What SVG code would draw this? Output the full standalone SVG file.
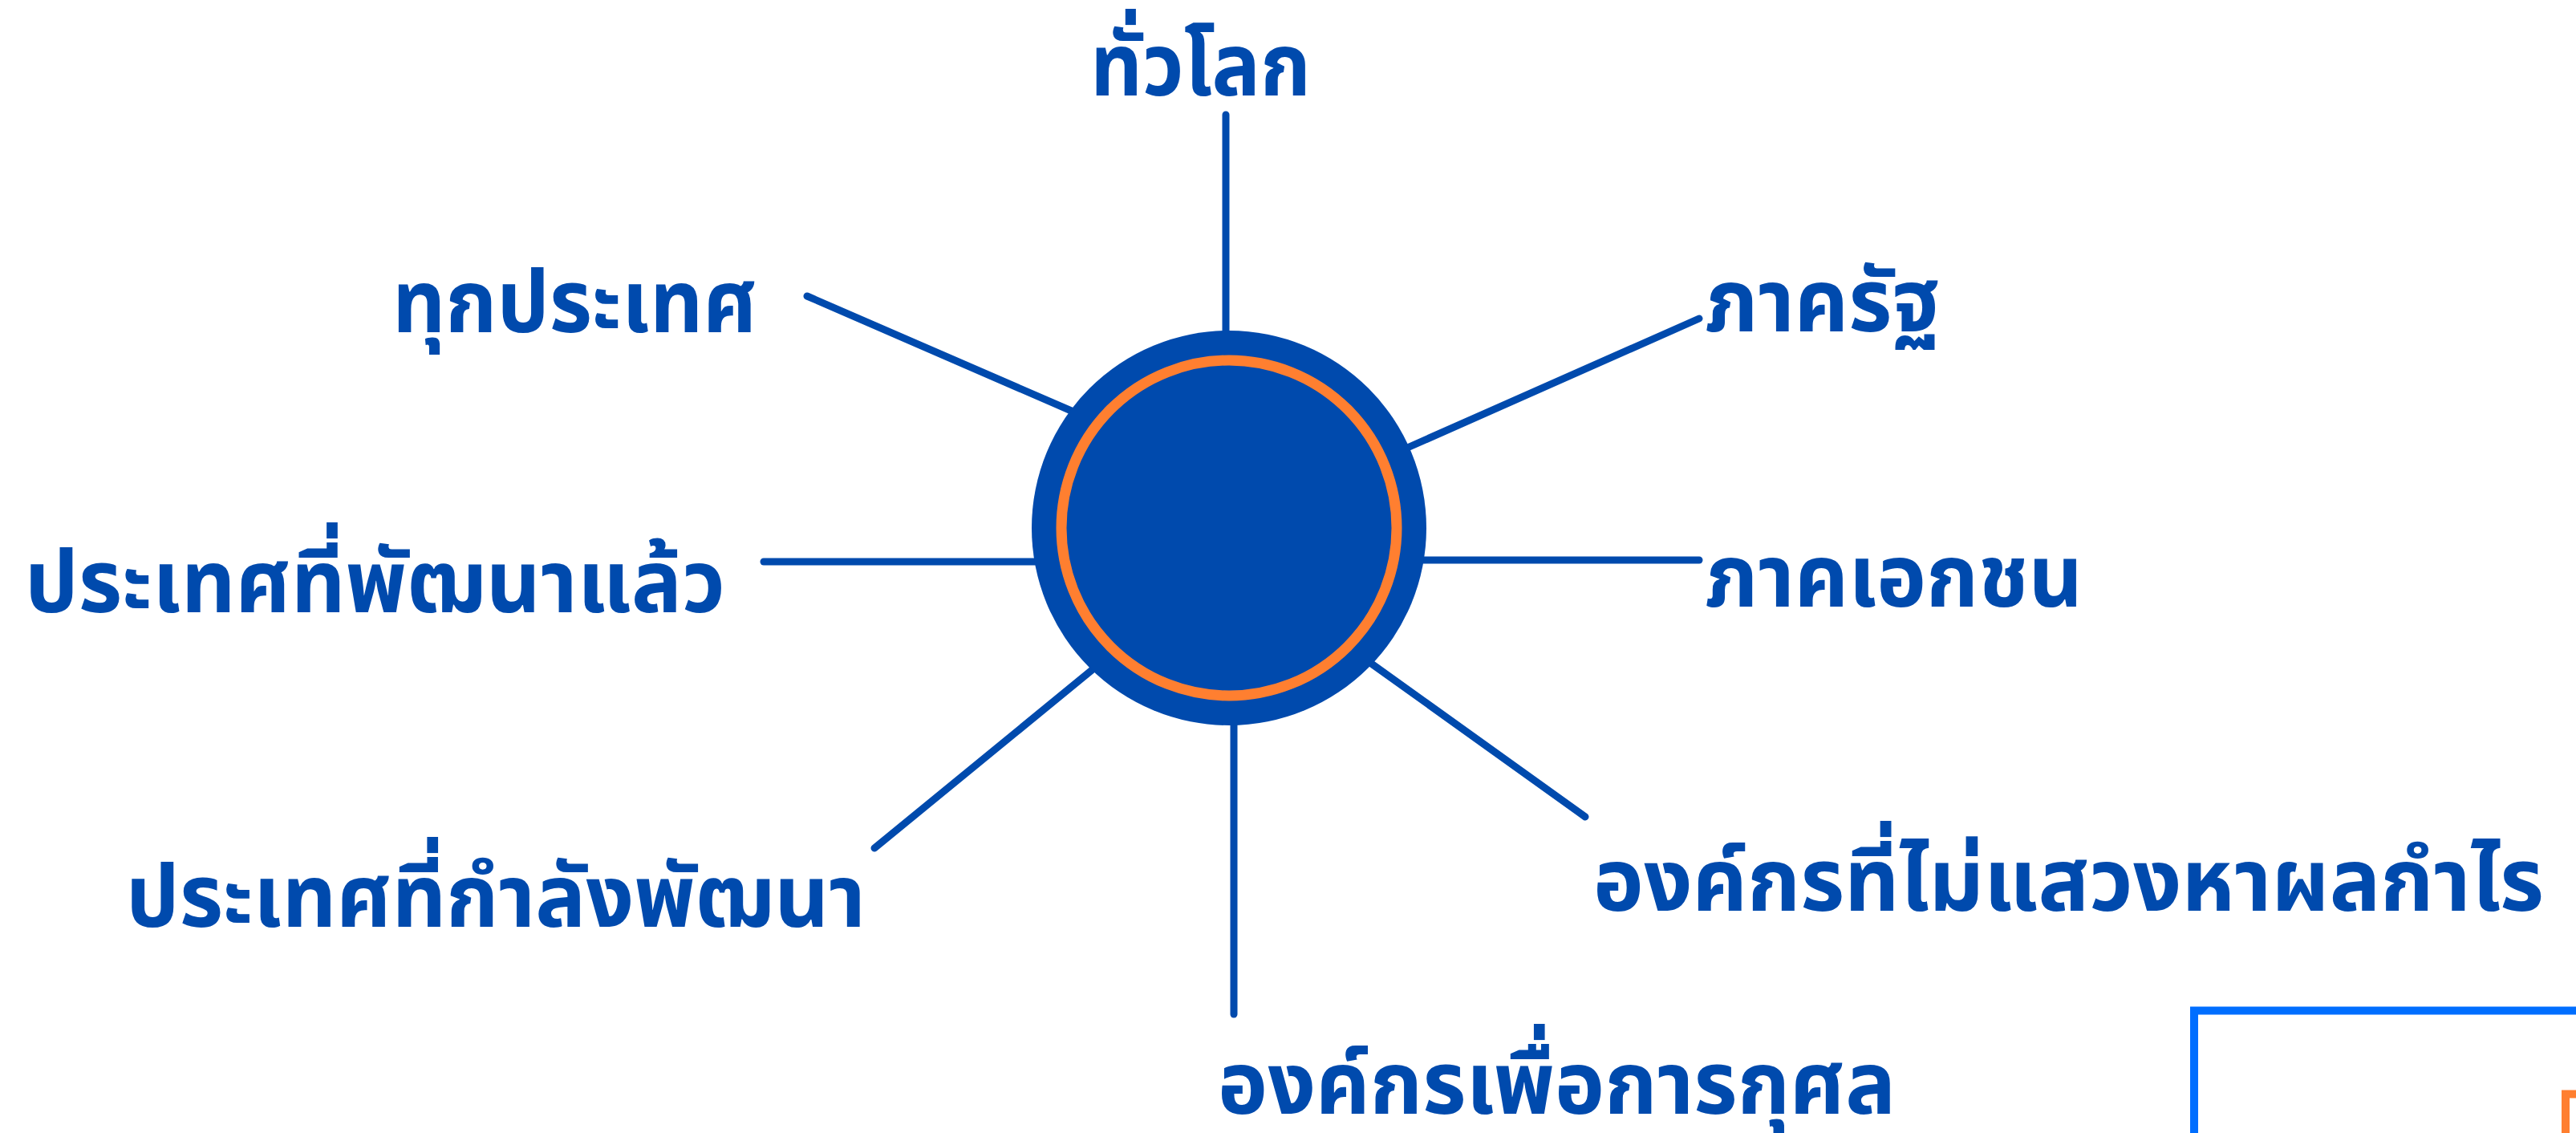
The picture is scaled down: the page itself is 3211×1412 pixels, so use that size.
<svg xmlns="http://www.w3.org/2000/svg" width="3211" height="1412" viewBox="0 0 3211 1412">
<style>
.lbl{font-family:"Noto Sans Thai","Noto Sans","DejaVu Sans",sans-serif;font-weight:700;font-size:108px;fill:#004AAD}
.con{stroke:#004AAD;stroke-width:9;stroke-linecap:round;fill:none}
</style>
<rect width="3211" height="1412" fill="#ffffff"/>
<g id="frame-blue"><rect x="2735" y="1259.5" width="600" height="300" fill="none" stroke="#006EFF" stroke-width="10"/></g>
<g id="frame-orange"><rect x="3198" y="1363.5" width="100" height="100" fill="none" stroke="#FF7F30" stroke-width="10"/></g>
<g id="connectors">
<line class="con" x1="1528" y1="143" x2="1528" y2="420"/>
<line class="con" x1="1006" y1="369" x2="1340" y2="514"/>
<line class="con" x1="952" y1="700" x2="1295" y2="700"/>
<line class="con" x1="1090" y1="1057" x2="1366" y2="831"/>
<line class="con" x1="1538" y1="900" x2="1538" y2="1264"/>
<line class="con" x1="1708" y1="826" x2="1976" y2="1018"/>
<line class="con" x1="1772" y1="698" x2="2118" y2="698"/>
<line class="con" x1="1752" y1="559" x2="2118" y2="397"/>
</g>
<g id="center">
<circle cx="1532" cy="658" r="246" fill="#004AAD"/>
<circle cx="1532" cy="658" r="209" fill="#004AAD" stroke="#FF7F30" stroke-width="13"/>
</g>
<g id="n-global"><text class="lbl" x="1359" y="119" textLength="275" lengthAdjust="spacingAndGlyphs">ทั่วโลก</text></g>
<g id="n-allcountries"><text class="lbl" x="489" y="414" textLength="455" lengthAdjust="spacingAndGlyphs">ทุกประเทศ</text></g>
<g id="n-government"><text class="lbl" x="2125" y="413" textLength="293" lengthAdjust="spacingAndGlyphs">ภาครัฐ</text></g>
<g id="n-developed"><text class="lbl" x="31" y="763" textLength="873" lengthAdjust="spacingAndGlyphs">ประเทศที่พัฒนาแล้ว</text></g>
<g id="n-private"><text class="lbl" x="2125" y="756" textLength="471" lengthAdjust="spacingAndGlyphs">ภาคเอกชน</text></g>
<g id="n-developing"><text class="lbl" x="157" y="1155" textLength="922" lengthAdjust="spacingAndGlyphs">ประเทศที่กำลังพัฒนา</text></g>
<g id="n-nonprofit"><text class="lbl" x="1986" y="1135" textLength="1185" lengthAdjust="spacingAndGlyphs">องค์กรที่ไม่แสวงหาผลกำไร</text></g>
<g id="n-charity"><text class="lbl" x="1518" y="1388" textLength="845" lengthAdjust="spacingAndGlyphs">องค์กรเพื่อการกุศล</text></g>
</svg>
